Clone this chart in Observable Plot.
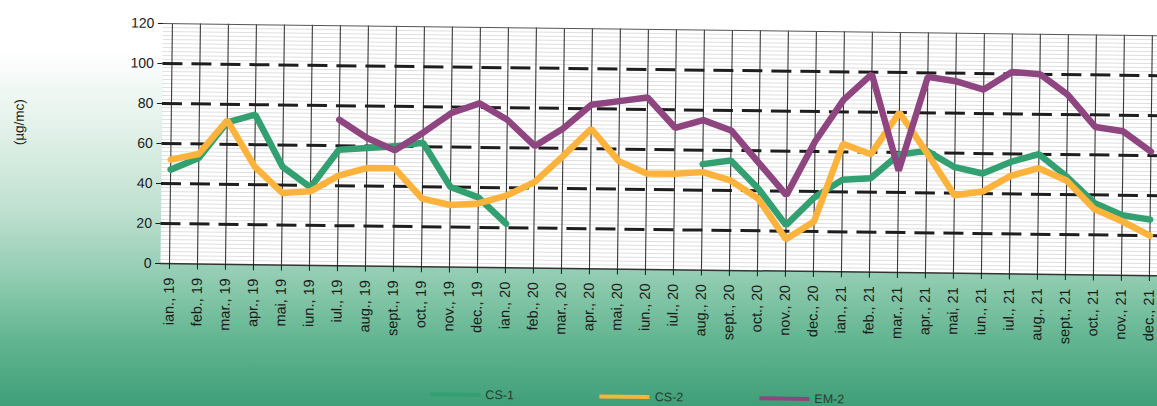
<!DOCTYPE html>
<html><head><meta charset="utf-8">
<script src="https://cdn.jsdelivr.net/npm/d3@7"></script>
<script src="https://cdn.jsdelivr.net/npm/@observablehq/plot@0.6"></script>
<style>
html,body{margin:0;padding:0;}
body{width:1157px;height:406px;overflow:hidden;position:relative;font-family:"Liberation Sans",Arial,sans-serif;
background:linear-gradient(to bottom,#ffffff 0px,#ffffff 50px,#e2f1e9 130px,#bfe0d0 210px,#8fcbb0 280px,#62b591 340px,#3f9f78 406px);}
#chart{position:absolute;left:0;top:0;width:1157px;height:406px;transform:rotate(0.7deg);transform-origin:160px 263px;}
#chart svg{position:absolute;left:0;top:0;}
#ylabel{position:absolute;left:-8px;top:116px;width:52px;text-align:center;font-size:13.5px;color:#1a1a1a;transform:rotate(-90deg);transform-origin:26px 8px;}
#legend{position:absolute;left:432px;top:384px;display:flex;align-items:center;font-size:12.5px;color:#2a3a33;}
.item{display:flex;align-items:center;}
.sw{width:50px;height:4px;margin-right:5px;}
</style>
</head><body>
<div id="chart"></div>
<script>
const months = [
  "ian., 19","feb., 19","mar., 19","apr., 19","mai, 19","iun., 19","iul., 19","aug., 19","sept., 19","oct., 19","nov., 19","dec., 19",
  "ian., 20","feb., 20","mar., 20","apr., 20","mai, 20","iun., 20","iul., 20","aug., 20","sept., 20","oct., 20","nov., 20","dec., 20",
  "ian., 21","feb., 21","mar., 21","apr., 21","mai, 21","iun., 21","iul., 21","aug., 21","sept., 21","oct., 21","nov., 21","dec., 21"
];
const cs1 = [47,53,71,75,49,39,58,59,60,62,40,35,22,null,null,null,null,null,null,53,55,41,23,37,46,47,59,61,53,50,56,60,49,36,30,28];
const cs2 = [52,55,72,49,36,37,45,49,49,34,31,32,36,43,56,70,54,48,48,49,45,36,16,25,64,59,80,60,39,41,49,53,47,33,27,20];
const em2 = [null,null,null,null,null,null,73,64,58,67,77,82,74,61,70,82,84,86,71,75,70,54,38,65,86,99,51,98,96,92,101,100,90,74,72,62];
const seriesNames = ["CS-1","CS-2","EM-2"];
const seriesColors = ["#33a072","#fbb33c","#8e4580"];
const yLabel = "(µg/mc)";
const yTicks = [0,20,40,60,80,100,120];
const dashedLevels = [20,40,60,80,100];
const minorLevels = d3.range(2,120,2).filter(v => v % 20 !== 0);

const table = (vals) => months.map((m,i) => ({month:m, value:vals[i]}));
const seriesValues = [cs1, cs2, em2];

const chart = Plot.plot({
  width:1157, height:352,
  marginTop:23, marginBottom:89, marginLeft:160, marginRight:0,
  style:{background:"transparent", fontFamily:"'Liberation Sans', Arial, sans-serif", color:"#1a1a1a"},
  x:{type:"point", domain:months, padding:0, label:null},
  y:{domain:[0,120], label:null},
  marks:[
    Plot.frame({fill:"white", stroke:"none"}),
    Plot.ruleY(minorLevels, {stroke:"#d2d2d2", strokeWidth:0.7}),
    Plot.ruleX(months, {stroke:"#3a3a3a", strokeWidth:1.1}),
    Plot.ruleY(dashedLevels, {stroke:"#1e1e1e", strokeWidth:3, strokeDasharray:"20,9"}),
    Plot.ruleY([120], {stroke:"#555", strokeWidth:1}),
    Plot.ruleY([0], {stroke:"#333", strokeWidth:1.5}),
    Plot.axisY({ticks:yTicks, tickSize:5, tickPadding:4, fontSize:14, label:null}),
    Plot.axisX({tickRotate:-90, tickSize:6, tickPadding:8, fontSize:14.5, label:null}),
    ...seriesValues.map((vals,k) => Plot.line(table(vals), {x:"month", y:"value", stroke:seriesColors[k], strokeWidth:6.5, strokeLinejoin:"miter"}))
  ]
});
const holder = document.getElementById("chart");
holder.appendChild(chart);

const yl = document.createElement("div");
yl.id = "ylabel";
yl.textContent = yLabel;
holder.appendChild(yl);

const legend = document.createElement("div");
legend.id = "legend";
const gaps = [86, 76, 0];
seriesNames.forEach((name,k) => {
  const it = document.createElement("div");
  it.className = "item";
  it.style.marginRight = gaps[k] + "px";
  const sw = document.createElement("div");
  sw.className = "sw";
  sw.style.background = seriesColors[k];
  const tx = document.createElement("span");
  tx.textContent = name;
  it.appendChild(sw); it.appendChild(tx);
  legend.appendChild(it);
});
holder.appendChild(legend);
</script>
</body></html>
